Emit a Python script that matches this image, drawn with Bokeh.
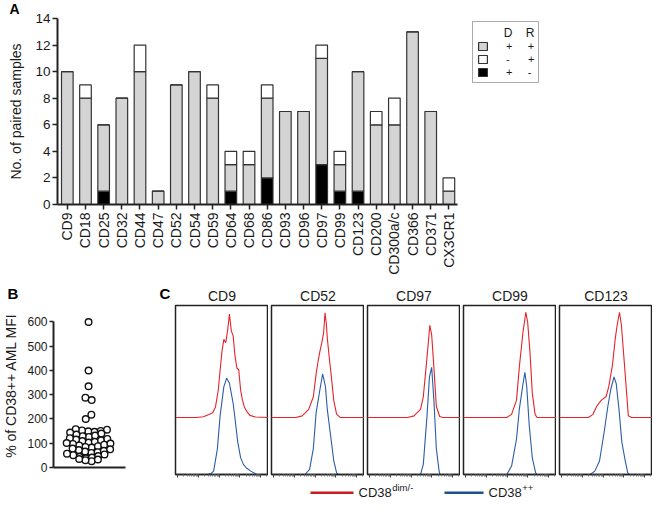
import math
import numpy as np
from bokeh.plotting import figure
from bokeh.layouts import row, column
from bokeh.models import (ColumnDataSource, FixedTicker, Legend, LegendItem,
                          Range1d)
from bokeh.embed import file_html
from bokeh.resources import INLINE
from bokeh.core.properties import value

FONT = "Liberation Sans"
TXT = "#1a1a1a"

# ---------------- Panel A data ----------------
markers = ["CD9", "CD18", "CD25", "CD32", "CD44", "CD47", "CD52", "CD54", "CD59",
           "CD64", "CD68", "CD86", "CD93", "CD96", "CD97", "CD99", "CD123",
           "CD200", "CD300a/c", "CD366", "CD371", "CX3CR1"]
d_pos_r_neg = [0, 0, 1, 0, 0, 0, 0, 0, 0, 1, 0, 2, 0, 0, 3, 1, 1, 0, 0, 0, 0, 0]
d_pos_r_pos = [10, 8, 5, 8, 10, 1, 9, 10, 8, 2, 3, 6, 7, 7, 8, 2, 9, 6, 6, 13, 7, 1]
d_neg_r_pos = [0, 1, 0, 0, 2, 0, 0, 0, 1, 1, 1, 1, 0, 0, 1, 1, 0, 1, 2, 0, 0, 1]
a_yticks = [0, 2, 4, 6, 8, 10, 12, 14]

# ---------------- Panel B data ----------------
mfi_pct = [600, 400, 335, 288, 278, 218, 200,
           147, 149, 151, 153, 156, 158,
           126, 129, 132, 136, 140, 144,
           103, 106, 109, 112, 115, 118, 121,
           82, 85, 88, 91, 94, 97, 99, 101,
           60, 63, 66, 69, 72, 75, 78,
           38, 41, 44, 47, 51, 54, 57,
           26, 30, 33, 35]
b_yticks = [0, 100, 200, 300, 400, 500, 600]

# ---------------- Panel C data (histograms, % of panel height) ----------------
c_names = ["CD9", "CD52", "CD97", "CD99", "CD123"]
red_offset = 33.7

cd9_red_x = [0, 22, 30, 36, 40, 43, 46, 48, 50, 52, 54, 56, 58, 60, 62, 64, 66, 68, 70, 72, 74, 77, 80, 86, 100]
cd9_red_y = [0, 0, 0.5, 1.8, 2.9, 6.3, 16.3, 28.3, 39.3, 46.3, 44.3, 51.3, 61.3, 51.3, 48.3, 36.3, 29.3, 28.3, 16.3, 10.3, 6.3, 3.3, 1.3, 0.3, 0]
cd9_blue_x = [0, 34, 38, 41, 45, 48, 52, 55, 58, 60, 62, 64, 67, 70, 73, 76, 81, 86, 88, 100]
cd9_blue_y = [0, 0, 0.5, 2, 15, 35, 52, 57, 54, 48, 42, 33, 19, 10, 6, 4, 2, 0.5, 0, 0]

cd52_red_x = [0, 26, 33, 40, 45, 48, 50, 52, 54, 56, 57.6, 59, 60, 62, 64, 67, 70, 74, 100]
cd52_red_y = [0, 0, 1, 4.8, 12.3, 26, 33, 39, 44, 50, 62, 55, 47, 36, 26, 10, 2, 0, 0]
cd52_blue_x = [0, 36, 41, 45, 48, 52, 55, 58, 60, 64, 67, 70, 72, 100]
cd52_blue_y = [0, 0, 3, 15.5, 36.6, 50, 59.6, 52, 38.5, 21, 8, 1, 0, 0]

cd97_red_x = [0, 43, 50, 57, 60, 63, 65.5, 67, 69, 71.4, 74, 77.6, 81, 100]
cd97_red_y = [0, 0, 1, 4.8, 12.3, 29.7, 45, 54.6, 48.9, 29.7, 6.7, 0.6, 0, 0]
cd97_blue_x = [0, 57, 60, 64, 66.6, 69, 71.4, 74, 77, 78, 100]
cd97_blue_y = [0, 0, 6, 34.7, 57.7, 63.4, 44, 15.5, 2, 0, 0]

cd99_red_x = [0, 46.5, 51.7, 57, 60, 64, 66, 67, 69, 71.4, 74, 77, 79, 100]
cd99_red_y = [0, 0, 1.9, 10.3, 29.7, 50.8, 58.3, 62.3, 56.3, 39.3, 14.3, 1.9, 0, 0]
cd99_blue_x = [0, 46.5, 51.7, 57, 60, 64, 66, 68, 70.7, 74, 77.6, 79, 100]
cd99_blue_y = [0, 0, 5, 21, 38.5, 53.8, 60.5, 52, 29, 9.8, 1, 0, 0]

cd123_red_x = [0, 31, 36, 40, 45, 50, 53, 57, 60, 62, 64.5, 66.6, 69, 71.4, 74, 77.6, 100]
cd123_red_y = [0, 0, 1.9, 6.7, 10.3, 12.3, 18.3, 31.3, 47, 54.6, 62.3, 54.6, 37.3, 20.1, 1, 0, 0]
cd123_blue_x = [0, 33, 38, 43, 48, 52, 55, 58.6, 61, 64, 67, 70.7, 73.4, 75, 100]
cd123_blue_y = [0, 0, 2, 8, 25, 40.4, 50, 57.7, 53.8, 38.5, 19.3, 8, 1, 0, 0]

red_x = [cd9_red_x, cd52_red_x, cd97_red_x, cd99_red_x, cd123_red_x]
red_y = [cd9_red_y, cd52_red_y, cd97_red_y, cd99_red_y, cd123_red_y]
blue_x = [cd9_blue_x, cd52_blue_x, cd97_blue_x, cd99_blue_x, cd123_blue_x]
blue_y = [cd9_blue_y, cd52_blue_y, cd97_blue_y, cd99_blue_y, cd123_blue_y]

legend_c_labels = ["CD38", "dim/-", "CD38", "++"]

GREY = "#d4d4d4"
RED = "#e3242b"
BLUE = "#2b5ca6"
LEG_RED = "#c81b22"
LEG_BLUE = "#1d4f91"


def style_common(p):
    p.xgrid.visible = False
    p.ygrid.visible = False
    p.background_fill_color = "white"
    p.border_fill_color = "white"


def letter_title(p, txt, offset, standoff, size="15px", valign="bottom"):
    p.title.text = txt
    p.title.align = "left"
    p.title.vertical_align = valign
    p.title.offset = offset
    p.title.standoff = standoff
    p.title.text_font = FONT
    p.title.text_font_size = size
    p.title.text_font_style = "bold"
    p.title.text_color = "black"


# ================= Panel A =================
A_W, A_H = 654, 281
A_L, A_R, A_T, A_B = 57, 94, 14, 77
px_per_cat = 18.17
x_start = -0.54
x_end = x_start + (A_W - A_L - A_R) / px_per_cat

pA = figure(width=A_W, height=A_H, x_range=Range1d(x_start, x_end),
            y_range=Range1d(0, 14), output_backend="svg", toolbar_location=None,
            min_border_left=A_L, min_border_right=A_R, min_border_top=A_T,
            min_border_bottom=A_B)
style_common(pA)
pA.outline_line_color = None
letter_title(pA, "A", -48, 0, "14px", "top")

srcA = ColumnDataSource(dict(x=list(range(len(markers))), blk=d_pos_r_neg,
                             gry=d_pos_r_pos, wht=d_neg_r_pos))
rs = pA.vbar_stack(["blk", "gry", "wht"], x="x", width=0.64, source=srcA,
                   fill_color=["black", GREY, "white"], line_color="#333333",
                   line_width=1.2)

pA.yaxis.ticker = FixedTicker(ticks=a_yticks)
pA.yaxis.axis_label = "No. of paired samples"
pA.yaxis.axis_label_text_font = FONT
pA.yaxis.axis_label_text_font_size = "14px"
pA.yaxis.axis_label_text_font_style = "normal"
pA.yaxis.axis_label_text_color = TXT
pA.yaxis.axis_label_standoff = 8
pA.yaxis.major_label_text_font = FONT
pA.yaxis.major_label_text_font_size = "13.5px"
pA.yaxis.major_label_text_color = TXT
pA.yaxis.major_label_standoff = 2
pA.yaxis.axis_line_width = 2
pA.yaxis.axis_line_color = "#222222"
pA.yaxis.major_tick_line_width = 1.5
pA.yaxis.major_tick_line_color = "#222222"
pA.yaxis.major_tick_out = 5
pA.yaxis.major_tick_in = 0
pA.yaxis.minor_tick_line_color = None

pA.xaxis.ticker = FixedTicker(ticks=list(range(len(markers))))
pA.xaxis.major_label_overrides = {i: m for i, m in enumerate(markers)}
pA.xaxis.major_label_orientation = math.pi / 2
pA.xaxis.major_label_text_font = FONT
pA.xaxis.major_label_text_font_size = "14px"
pA.xaxis.major_label_text_color = TXT
pA.xaxis.major_label_standoff = 3
pA.xaxis.bounds = (x_start, len(markers) - 0.52)
pA.xaxis.axis_line_width = 2
pA.xaxis.axis_line_color = "#222222"
pA.xaxis.major_tick_line_width = 1.5
pA.xaxis.major_tick_line_color = "#222222"
pA.xaxis.major_tick_out = 5
pA.xaxis.major_tick_in = 0
pA.xaxis.minor_tick_line_color = None

nb = "\u00a0"
legA = Legend(items=[
    LegendItem(label="+" + nb * 5 + "+", renderers=[rs[1]]),
    LegendItem(label="-" + nb * 6 + "+", renderers=[rs[2]]),
    LegendItem(label="+" + nb * 5 + "-", renderers=[rs[0]]),
], location=(415, 121))
legA.title = nb * 8 + "D" + nb * 4 + "R"
legA.title_text_font = FONT
legA.title_text_font_size = "12px"
legA.title_text_font_style = "normal"
legA.title_text_color = TXT
legA.title_text_line_height = 0.9
legA.title_standoff = 0
legA.label_text_font = FONT
legA.label_text_font_size = "11px"
legA.label_text_color = TXT
legA.label_text_line_height = 0.9
legA.label_height = 10
legA.glyph_width = 11
legA.glyph_height = 10
legA.label_standoff = 18
legA.spacing = 1
legA.padding = 4
legA.border_line_color = "#555555"
legA.border_line_width = 1.2
legA.background_fill_alpha = 1
pA.add_layout(legA)

# ================= Panel B =================
B_W, B_H = 156, 218
B_L, B_T, B_Bm = 49, 19, 32
B_FW = 76
b_frame_h = B_H - B_T - B_Bm
b_ppu = (185.8 - 37.8) / 600.0            # pixels per % unit
b_ytop = 600 + (37.8 - B_T) / b_ppu
pB = figure(width=B_W, height=B_H, x_range=Range1d(-37, 39),
            y_range=Range1d(0, b_ytop), output_backend="svg",
            toolbar_location=None, min_border_left=B_L,
            min_border_right=B_W - B_L - B_FW, min_border_top=B_T,
            min_border_bottom=B_Bm)
style_common(pB)
pB.outline_line_color = None
letter_title(pB, "B", -46, 0, "15px", "top")

# GraphPad-like scatter: values binned into rows, points spread side by side
sep = 6.6          # horizontal spacing (x units == pixels here)
bin_w = 22.0       # row height in % units
rows_b = {}
for i, v in enumerate(mfi_pct):
    rows_b.setdefault(math.floor((v - 14) / bin_w), []).append(i)
bx = [0.0] * len(mfi_pct)
for k, idx in rows_b.items():
    idx.sort(key=lambda i: mfi_pct[i])
    m = len(idx)
    slots = sorted([(j - (m - 1) / 2) * sep for j in range(m)],
                   key=lambda s: (abs(s), -s))
    for i, s in zip(idx, slots):
        bx[i] = s
# separate lone points in neighbouring rows that would sit on top of each other
ypx = [v * b_ppu for v in mfi_pct]
for a in range(len(mfi_pct)):
    for b in range(a + 1, len(mfi_pct)):
        if abs(bx[a] - bx[b]) < 1e-6 and abs(ypx[a] - ypx[b]) < sep:
            hi, lo = (a, b) if mfi_pct[a] > mfi_pct[b] else (b, a)
            bx[hi] += sep * 0.45
            bx[lo] -= sep * 0.45

med = float(np.median(mfi_pct))
pB.segment(x0=[-26], y0=[med], x1=[26], y1=[med], line_color="black", line_width=1.6)
pB.scatter(x=bx, y=mfi_pct, size=6.6, marker="circle", fill_color="white",
           line_color="#111111", line_width=1.4)

pB.yaxis.ticker = FixedTicker(ticks=b_yticks)
pB.yaxis.bounds = (0, 600)
pB.yaxis.axis_label = "% of CD38++ AML MFI"
pB.yaxis.axis_label_text_font = FONT
pB.yaxis.axis_label_text_font_size = "14px"
pB.yaxis.axis_label_text_font_style = "normal"
pB.yaxis.axis_label_text_color = TXT
pB.yaxis.axis_label_standoff = 5
pB.yaxis.major_label_text_font = FONT
pB.yaxis.major_label_text_font_size = "12px"
pB.yaxis.major_label_text_color = TXT
pB.yaxis.major_label_standoff = 2
pB.yaxis.axis_line_width = 2
pB.yaxis.axis_line_color = "#222222"
pB.yaxis.major_tick_line_width = 1.5
pB.yaxis.major_tick_line_color = "#222222"
pB.yaxis.major_tick_out = 4
pB.yaxis.major_tick_in = 0
pB.yaxis.minor_tick_line_color = None

pB.xaxis.ticker = FixedTicker(ticks=[])
pB.xaxis.major_label_text_color = None
pB.xaxis.axis_line_width = 2
pB.xaxis.axis_line_color = "#222222"
pB.xaxis.major_tick_line_color = None
pB.xaxis.minor_tick_line_color = None

# narrow strip carrying the "C" panel letter
pCL = figure(width=16, height=B_H, x_range=Range1d(0, 1), y_range=Range1d(0, 1),
             output_backend="svg", toolbar_location=None,
             x_axis_location=None, y_axis_location=None, min_border_left=0,
             min_border_right=0, min_border_top=22, min_border_bottom=B_Bm)
style_common(pCL)
pCL.outline_line_color = None
letter_title(pCL, "C", 3, 0, "15px", "top")

# ================= Panel C =================
C_W, C_H = 96, 200
C_L, C_T, C_Bm = 3, 24, 7

dec_step = 22.4
majors = [2 + dec_step * k for k in range(5)]
minors = [m + dec_step * math.log10(j) for m in majors for j in range(2, 10)
          if m + dec_step * math.log10(j) < 100]

c_figs = []
for n, name in enumerate(c_names):
    p = figure(width=C_W, height=C_H, x_range=Range1d(0, 100),
               y_range=Range1d(0, 100), output_backend="svg",
               toolbar_location=None, y_axis_location=None,
               min_border_left=C_L, min_border_right=0, min_border_top=C_T,
               min_border_bottom=C_Bm)
    style_common(p)
    p.title.text = name
    p.title.align = "center"
    p.title.standoff = 3
    p.title.text_font = FONT
    p.title.text_font_size = "14px"
    p.title.text_font_style = "normal"
    p.title.text_color = TXT
    p.outline_line_color = "#222222"
    p.outline_line_width = 1.5
    p.line(blue_x[n], blue_y[n], line_color=BLUE, line_width=1.1)
    p.line(red_x[n], [v + red_offset for v in red_y[n]], line_color=RED,
           line_width=1.1)
    p.xaxis.ticker = FixedTicker(ticks=majors, minor_ticks=minors)
    p.xaxis.major_label_text_color = None
    p.xaxis.major_label_standoff = 0
    p.xaxis.axis_line_color = "#222222"
    p.xaxis.axis_line_width = 1.5
    p.xaxis.major_tick_out = 3
    p.xaxis.major_tick_in = 0
    p.xaxis.minor_tick_out = 2
    p.xaxis.minor_tick_in = 0
    p.xaxis.major_tick_line_color = "#444444"
    p.xaxis.minor_tick_line_color = "#777777"
    c_figs.append(p)

# legend strip for panel C
LG_W, LG_H = 5 * C_W, 18
pL = figure(width=LG_W, height=LG_H, x_range=Range1d(0, LG_W),
            y_range=Range1d(0, LG_H), output_backend="svg",
            toolbar_location=None, x_axis_location=None, y_axis_location=None,
            min_border=0)
style_common(pL)
pL.outline_line_color = None
ly = 6.7
fs = 13
cd38_w = 2.556 * fs
pL.segment(x0=[138], y0=[ly], x1=[181], y1=[ly], line_color=LEG_RED, line_width=2.5)
pL.segment(x0=[272], y0=[ly], x1=[311], y1=[ly], line_color=LEG_BLUE, line_width=2.5)
pL.text(x=[186, 316], y=[ly, ly], text=[legend_c_labels[0], legend_c_labels[2]],
        text_font=value(FONT), text_font_size=f"{fs}px", text_baseline="middle",
        text_color=TXT)
pL.text(x=[186 + cd38_w + 0.5, 316 + cd38_w + 0.5], y=[ly + 5, ly + 5],
        text=[legend_c_labels[1], legend_c_labels[3]], text_font=value(FONT),
        text_font_size="9.5px", text_baseline="middle", text_color=TXT)

layout = column(pA, row(pB, pCL, column(row(*c_figs), pL)))

open("out.html", "w").write(file_html(layout, INLINE))
